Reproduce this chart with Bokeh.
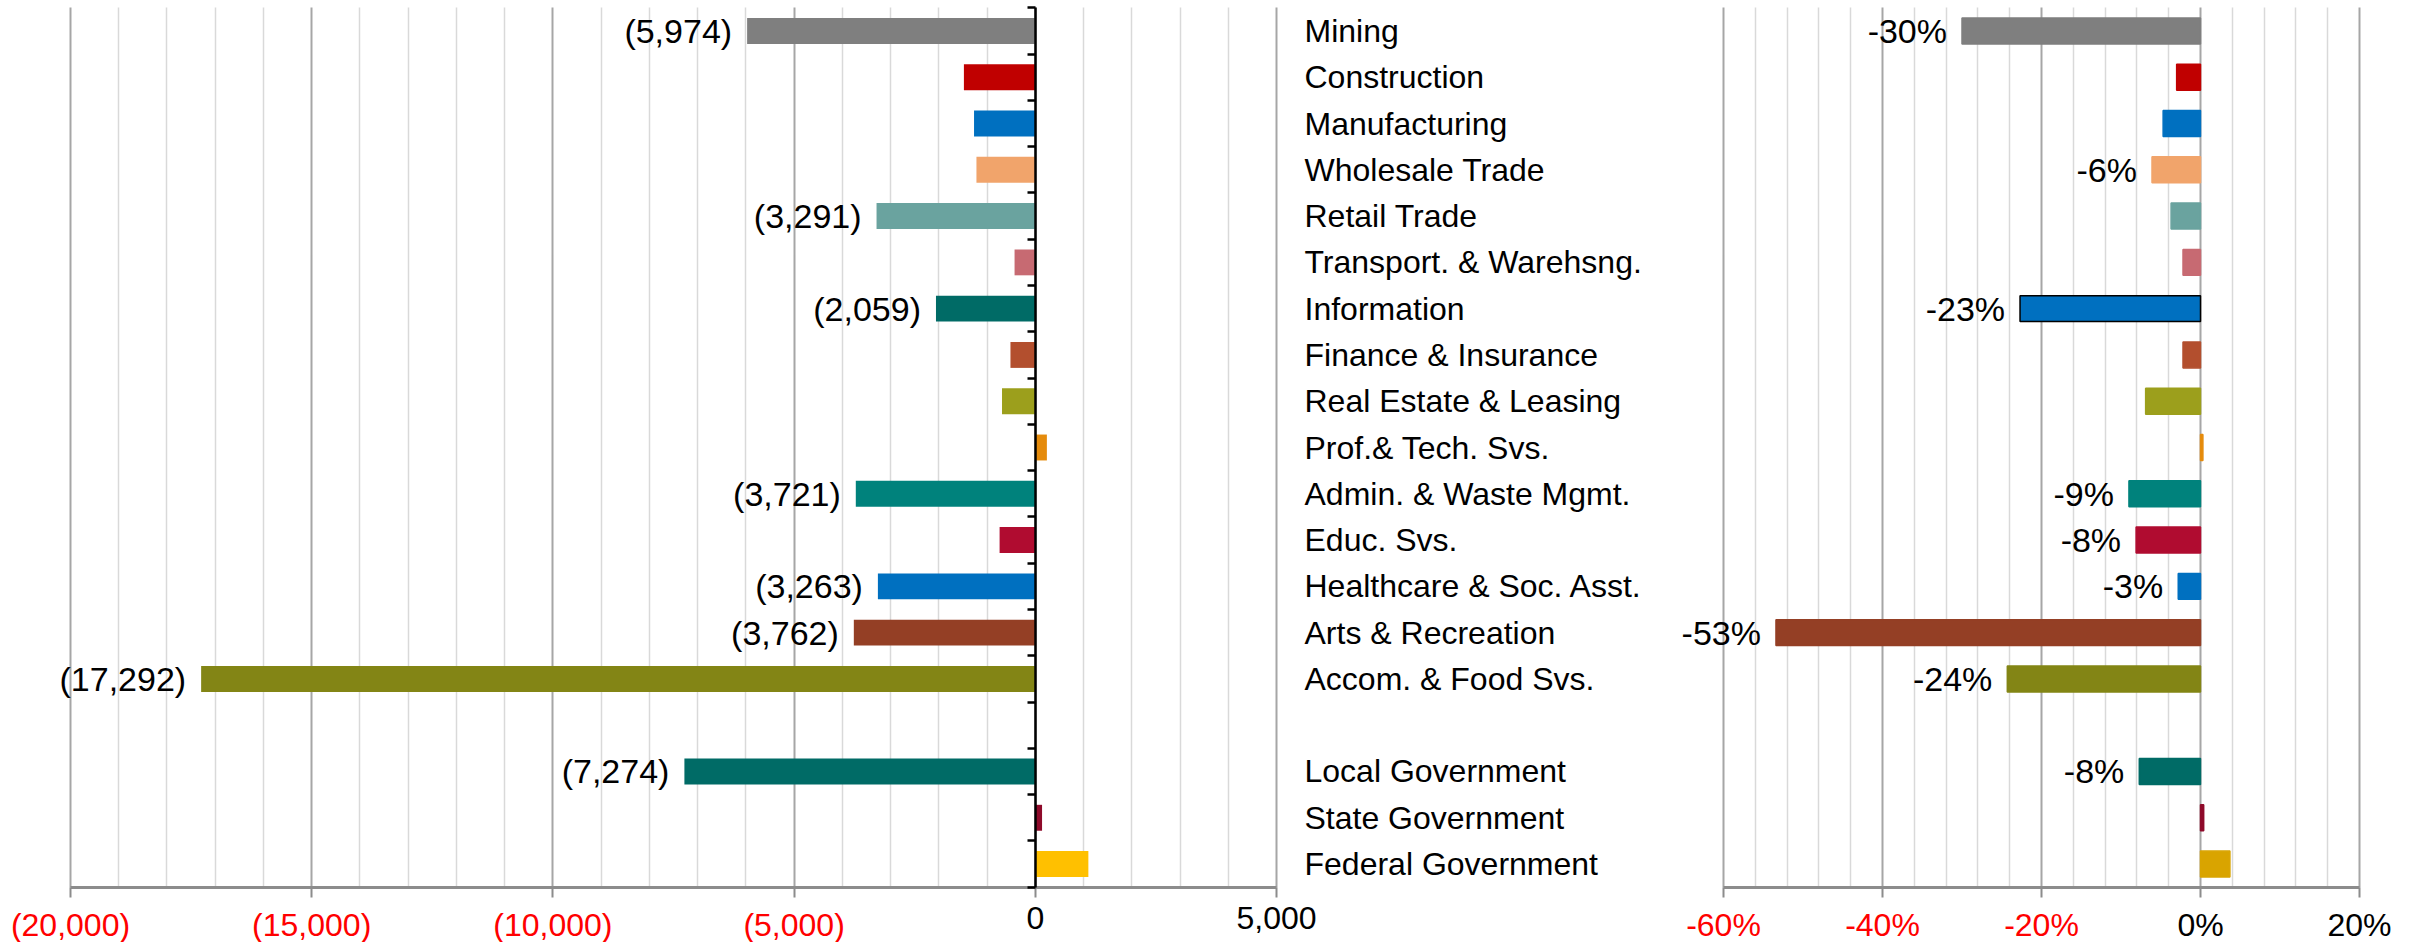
from bokeh.plotting import figure
from bokeh.models import Range1d, LinearAxis, FixedTicker, Grid, ColumnDataSource
from bokeh.core.properties import value
from bokeh.embed import file_html
from bokeh.resources import INLINE

FONT = "Liberation Sans"

# ---------------- data ----------------
categories = ["Mining", "Construction", "Manufacturing", "Wholesale Trade", "Retail Trade",
              "Transport. & Warehsng.", "Information", "Finance & Insurance",
              "Real Estate & Leasing", "Prof.& Tech. Svs.", "Admin. & Waste Mgmt.",
              "Educ. Svs.", "Healthcare & Soc. Asst.", "Arts & Recreation",
              "Accom. & Food Svs.", "", "Local Government", "State Government",
              "Federal Government"]

job_change = [-5974, -1480, -1270, -1220, -3291, -430, -2059, -515, -690, 240,
              -3721, -740, -3263, -3762, -17292, None, -7274, 140, 1100]
job_labels = ["(5,974)", "", "", "", "(3,291)", "", "(2,059)", "", "", "",
              "(3,721)", "", "(3,263)", "(3,762)", "(17,292)", "", "(7,274)", "", ""]
job_colors = ["#7f7f7f", "#c00000", "#0070c0", "#f1a46b", "#6aa39f", "#c76a72",
              "#006b66", "#b34f2e", "#9c9f1c", "#e58b0c", "#00827c", "#b00c30",
              "#0070c0", "#943f25", "#838515", None, "#006b66", "#8e0a2a", "#ffc000"]

pct_change = [-30.0, -3.0, -4.7, -6.1, -3.7, -2.2, -22.7, -2.2, -6.9, 0.3,
              -9.0, -8.1, -2.8, -53.4, -24.3, None, -7.7, 0.4, 3.7]
pct_labels = ["-30%", "", "", "-6%", "", "", "-23%", "", "", "",
              "-9%", "-8%", "-3%", "-53%", "-24%", "", "-8%", "", ""]
pct_colors = ["#7f7f7f", "#c00000", "#0070c0", "#f1a46b", "#6aa39f", "#c76a72",
              "#0070c0", "#b34f2e", "#9c9f1c", "#e58b0c", "#00827c", "#b00c30",
              "#0070c0", "#943f25", "#838515", None, "#006b66", "#8e0a2a", "#d9a400"]
pct_outline = [None, None, None, None, None, None, "#000000", None, None, None,
               None, None, None, None, None, None, None, None, None]

job_ticks = [-20000, -15000, -10000, -5000, 0, 5000]
job_minor = [t for t in range(-20000, 5001, 1000) if t not in job_ticks]
pct_ticks = [-60, -40, -20, 0, 20]
pct_minor = [t for t in range(-60, 21, 4) if t not in pct_ticks]

n_slots = len(categories)

# ---------------- layout (pixels) ----------------
W, H = 2412, 942
JOB_PX = (70.0, 1276.0)      # screen x of job_ticks[0] and job_ticks[-1]
PCT_PX = (1723.0, 2359.0)    # screen x of pct_ticks[0] and pct_ticks[-1]
SLOT_PX = (7.3, 886.7)       # screen y of top of first slot and bottom of last


def span_range(v0, v1, p0, p1, total):
    upp = (v1 - v0) / (p1 - p0)
    return v0 - p0 * upp, v0 + (total - p0) * upp


jx0, jx1 = span_range(job_ticks[0], job_ticks[-1], *JOB_PX, W)
px0, px1 = span_range(pct_ticks[0], pct_ticks[-1], *PCT_PX, W)
y_top, y_bot = span_range(0, n_slots, *SLOT_PX, H)

p = figure(width=W, height=H, x_range=Range1d(jx0, jx1), y_range=Range1d(y_bot, y_top),
           x_axis_location=None, y_axis_location=None, toolbar_location=None,
           output_backend="svg", min_border=0, min_border_left=0, min_border_right=0,
           min_border_top=0, min_border_bottom=0)
p.extra_x_ranges = {"pct": Range1d(px0, px1)}
p.outline_line_color = None
p.xgrid.visible = False
p.ygrid.visible = False
p.background_fill_color = "white"
p.border_fill_color = "white"

HAS_CROSS = "cross_bounds" in Grid.properties()


def add_grid(ticks, minor, rname):
    kw = dict(dimension=0, ticker=FixedTicker(ticks=ticks, minor_ticks=minor),
              grid_line_color="#a6a6a6", grid_line_width=2,
              minor_grid_line_color="#d9d9d9", minor_grid_line_width=1.5,
              bounds=(ticks[0], ticks[-1]))
    if rname:
        kw["x_range_name"] = rname
    if HAS_CROSS:
        kw["cross_bounds"] = (0, n_slots)
        p.add_layout(Grid(**kw))
    else:
        gkw = {"x_range_name": rname} if rname else {}
        p.segment(x0=minor, x1=minor, y0=0, y1=n_slots, line_color="#d9d9d9",
                  line_width=1.5, **gkw)
        p.segment(x0=ticks, x1=ticks, y0=0, y1=n_slots, line_color="#a6a6a6",
                  line_width=2, **gkw)


def add_bottom_axes(ticks, fmt, rname):
    common = dict(fixed_location=n_slots, major_tick_out=10, major_tick_in=0,
                  minor_tick_line_color=None, major_label_standoff=10,
                  major_label_text_font=FONT, major_label_text_font_size="32px")
    if rname:
        common["x_range_name"] = rname
    neg = LinearAxis(ticker=FixedTicker(ticks=ticks), bounds=(ticks[0], ticks[-1]),
                     axis_line_color="#8c8c8c", axis_line_width=3,
                     major_tick_line_color="#8c8c8c", major_tick_line_width=2,
                     major_label_text_color="#ff0000",
                     major_label_overrides={t: (fmt(t) if t < 0 else "") for t in ticks},
                     **common)
    p.add_layout(neg, "below")
    pos_ticks = [t for t in ticks if t >= 0]
    pos = LinearAxis(ticker=FixedTicker(ticks=pos_ticks), axis_line_color=None,
                     major_tick_line_color=None, major_label_text_color="#000000",
                     major_label_overrides={t: fmt(t) for t in pos_ticks}, **common)
    p.add_layout(pos, "below")


def fmt_jobs(t):
    return f"({-t:,})" if t < 0 else f"{t:,}"


def fmt_pct(t):
    return f"{t}%"


def make_source(values, labels, colors, outlines=None):
    ys, vs, ts, cs, ls = [], [], [], [], []
    for i, v in enumerate(values):
        if v is None:
            continue
        ys.append(i + 0.5)
        vs.append(v)
        ts.append(labels[i])
        cs.append(colors[i])
        ol = outlines[i] if outlines else None
        ls.append(ol if ol else colors[i])
    return ColumnDataSource(dict(y=ys, v=vs, t=ts, c=cs, lc=ls))


add_grid(job_ticks, job_minor, None)
add_grid(pct_ticks, pct_minor, "pct")

# ---------------- left chart: change in jobs ----------------
src1 = make_source(job_change, job_labels, job_colors)
p.hbar(y="y", left=0, right="v", height=0.56, fill_color="c", line_color=None, source=src1)
p.text(x="v", y="y", text="t", source=src1, x_offset=-15, text_align="right",
       text_baseline="middle", text_font=value(FONT), text_font_size="34px", text_color="black")

# ---------------- right chart: percent change ----------------
src2 = make_source(pct_change, pct_labels, pct_colors, pct_outline)
p.hbar(y="y", left=0, right="v", height=0.56, fill_color="c", line_color="lc",
       line_width=1.5, source=src2, x_range_name="pct")
p.text(x="v", y="y", text="t", source=src2, x_offset=-15, text_align="right",
       text_baseline="middle", text_font=value(FONT), text_font_size="34px",
       text_color="black", x_range_name="pct")

add_bottom_axes(job_ticks, fmt_jobs, None)
add_bottom_axes(pct_ticks, fmt_pct, "pct")

# zero axis of the left chart, with ticks at the category boundaries
zero_axis = LinearAxis(fixed_location=0, ticker=FixedTicker(ticks=list(range(n_slots + 1))),
                       bounds=(0, n_slots), axis_line_color="black", axis_line_width=2.5,
                       major_tick_line_color="black", major_tick_line_width=2.5,
                       major_tick_out=8, major_tick_in=0, minor_tick_line_color=None,
                       major_label_text_color=None)
p.add_layout(zero_axis, "left")

# category names, left aligned, just right of the left chart
cat_ticks = [i + 0.5 for i, c in enumerate(categories) if c]
cat_axis = LinearAxis(fixed_location=job_ticks[-1], ticker=FixedTicker(ticks=cat_ticks),
                      major_label_overrides={i + 0.5: c for i, c in enumerate(categories) if c},
                      axis_line_color=None, major_tick_line_color=None, minor_tick_line_color=None,
                      major_tick_out=0, major_tick_in=0, major_label_standoff=28,
                      major_label_text_font=FONT, major_label_text_font_size="32px",
                      major_label_text_color="black")
p.add_layout(cat_axis, "right")

open("out.html", "w").write(file_html(p, INLINE))
